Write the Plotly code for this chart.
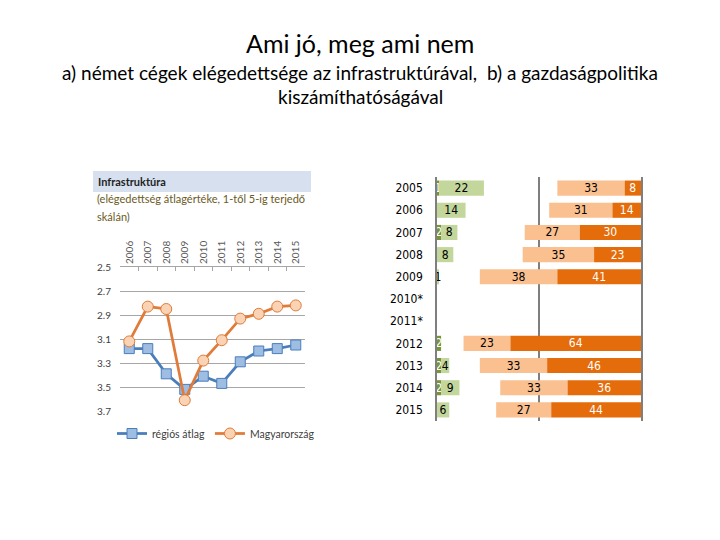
import plotly.graph_objects as go

# ---- line chart data ----
line_years = ["2006", "2007", "2008", "2009", "2010", "2011", "2012", "2013", "2014", "2015"]
regional_avg = [3.18, 3.18, 3.39, 3.52, 3.41, 3.47, 3.29, 3.20, 3.18, 3.15]
hungary = [3.12, 2.83, 2.85, 3.61, 3.28, 3.11, 2.93, 2.89, 2.83, 2.82]
line_yticks = [2.5, 2.7, 2.9, 3.1, 3.3, 3.5, 3.7]

# ---- bar chart data ----
bar_years = ["2005", "2006", "2007", "2008", "2009", "2010*", "2011*", "2012", "2013", "2014", "2015"]
dark_green = [1, 0, 2, 0, 0, None, None, 2, 2, 2, 0]
light_green = [22, 14, 8, 8, 1, None, None, 0, 4, 9, 6]
light_orange = [33, 31, 27, 35, 38, None, None, 23, 33, 33, 27]
dark_orange = [8, 14, 30, 23, 41, None, None, 64, 46, 36, 44]

W, H = 720, 540
OFF = 8  # page body margin
def px(x): return (x - OFF) / W
def py(y): return 1 - (y - OFF) / H

def lbl(vals):
    return ["" if (v is None or v == 0) else str(v) for v in vals]

def z(v):
    return 0 if v is None else v

fig = go.Figure()

# line chart
fig.add_trace(go.Scatter(
    x=line_years, y=regional_avg, name="régiós átlag", mode="lines+markers",
    line=dict(color="#4A7EBB", width=2.75),
    marker=dict(symbol="square", size=10, color="#9DBDE3", line=dict(color="#4A7EBB", width=1)),
    xaxis="x", yaxis="y"))
fig.add_trace(go.Scatter(
    x=line_years, y=hungary, name="Magyarország", mode="lines+markers",
    line=dict(color="#E07B39", width=2.75),
    marker=dict(symbol="circle", size=11, color="#FAD3B5", line=dict(color="#E07B39", width=1)),
    xaxis="x", yaxis="y"))

# bar chart
bar_font = dict(family="DejaVu Sans Condensed, Liberation Sans Narrow, Arial Narrow", size=12)
dg_base = [0 for _ in bar_years]
lg_base = [z(a) for a in dark_green]
lo_base = [100 - z(a) - z(b) for a, b in zip(light_orange, dark_orange)]
do_base = [100 - z(b) for b in dark_orange]

for vals, base, color, tcolor in [
    (dark_green, dg_base, "#77933C", "white"),
    (light_green, lg_base, "#C3D69B", "black"),
    (light_orange, lo_base, "#FAC090", "black"),
    (dark_orange, do_base, "#E46C0A", "white"),
]:
    fig.add_trace(go.Bar(
        y=bar_years, x=vals, base=base, orientation="h",
        marker=dict(color=color, line=dict(width=0)),
        text=lbl(vals), textposition="inside", insidetextanchor="middle", textangle=0,
        textfont=dict(color=tcolor, **bar_font), cliponaxis=False,
        showlegend=False, xaxis="x2", yaxis="y2", hoverinfo="skip"))

fig.update_layout(
    template="none",
    width=W, height=H, margin=dict(l=0, r=0, t=0, b=0, autoexpand=False),
    paper_bgcolor="white", plot_bgcolor="white",
    barmode="overlay", bargap=0.32,
    uniformtext=dict(minsize=12, mode="show"),
    font=dict(family="Lato, Open Sans, sans-serif", color="#404040"),
    xaxis=dict(domain=[px(120), px(305)], anchor="y", side="top", type="category",
               range=[-0.5, 9.5],
               tickangle=-90, tickson="boundaries", ticks="inside", ticklen=4,
               tickcolor="#A6A6A6", showline=True, linecolor="#A6A6A6", automargin=False,
               showgrid=False, tickfont=dict(size=10, color="#595959")),
    yaxis=dict(domain=[py(411), py(267)], anchor="x", range=[3.7, 2.5], automargin=False,
               tickvals=line_yticks, ticktext=[f"{v:.1f}" for v in line_yticks],
               showgrid=True, gridcolor="#A6A6A6", gridwidth=1, zeroline=False, ticks="",
               tickfont=dict(size=10, color="#404040"), ticklabelstandoff=8),
    xaxis2=dict(domain=[px(437), px(641)], anchor="y2", range=[0, 100], automargin=False,
                tickvals=[0, 50, 100], showticklabels=False, showgrid=True, ticks="",
                gridcolor="#7F7F7F", gridwidth=1.5, zeroline=False, showline=False),
    yaxis2=dict(domain=[py(421), py(177)], anchor="x2", type="category", automargin=False,
                categoryorder="array", categoryarray=bar_years, autorange="reversed",
                showgrid=False, ticks="", tickfont=dict(color="black", **bar_font),
                showline=True, mirror=True, linecolor="#7F7F7F", linewidth=1.5,
                ticklabelstandoff=10),
    legend=dict(orientation="h", x=px(112), y=py(419), xanchor="left", yanchor="top",
                font=dict(size=10.5, color="#404040"), bgcolor="rgba(0,0,0,0)",
                itemwidth=30, tracegroupgap=0),
)

fig.add_shape(type="rect", xref="paper", yref="paper", x0=px(93), x1=px(311),
              y0=py(192), y1=py(171), fillcolor="#D6E0EE", line=dict(width=0), layer="below")

annos = [
    dict(text="Ami jó, meg ami nem", x=px(360), y=py(43), size=25, color="black", xanchor="center"),
    dict(text="a) német cégek elégedettsége az infrastruktúrával,  b) a gazdaságpolitika",
         x=px(360), y=py(73), size=19, color="black", xanchor="center"),
    dict(text="kiszámíthatóságával", x=px(360), y=py(97), size=19, color="black", xanchor="center"),
    dict(text="<b>Infrastruktúra</b>", x=px(96), y=py(181), size=11, color="#1F1F1F", xanchor="left"),
    dict(text="(elégedettség átlagértéke, 1-től 5-ig terjedő", x=px(95), y=py(199), size=11,
         color="#6B5A24", xanchor="left"),
    dict(text="skálán)", x=px(95), y=py(216), size=11, color="#6B5A24", xanchor="left"),
]
for a in annos:
    fig.add_annotation(text=a["text"], x=a["x"], y=a["y"], xref="paper", yref="paper",
                       xanchor=a["xanchor"], yanchor="middle", showarrow=False,
                       font=dict(size=a["size"], color=a["color"], family="Lato, Open Sans, sans-serif"))

fig.write_html("out.html")
